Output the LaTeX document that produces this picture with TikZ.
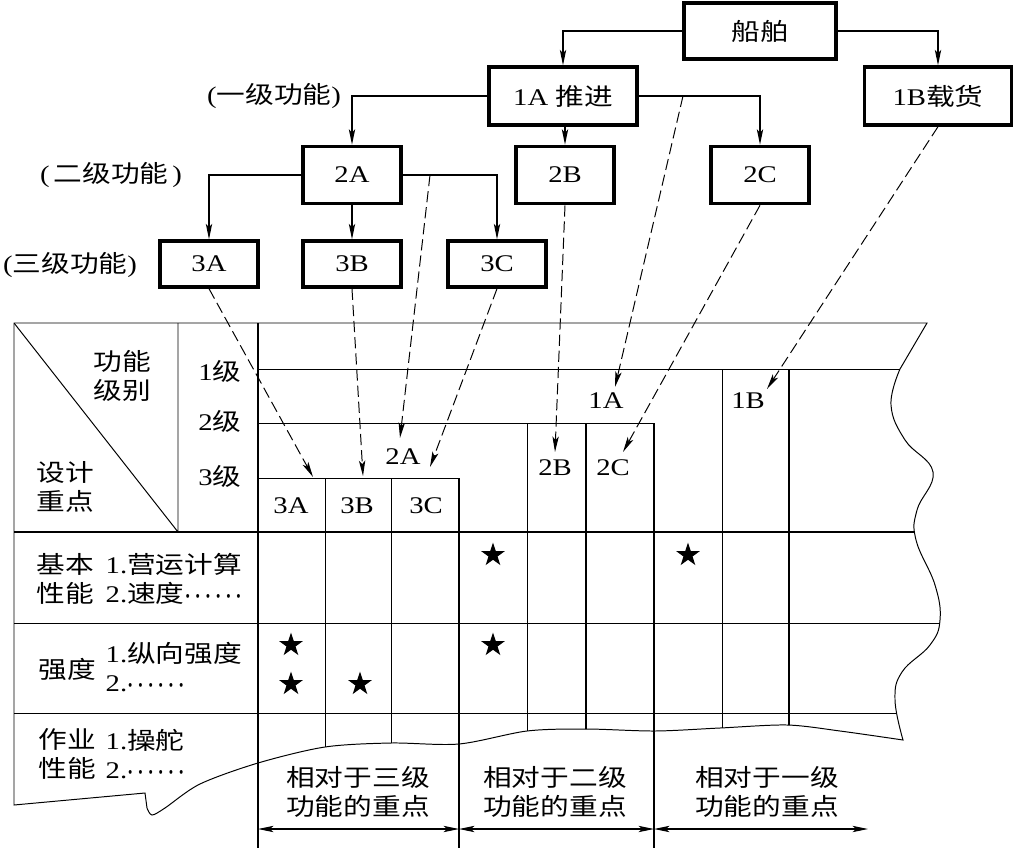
\documentclass[tikz,border=0pt]{standalone}
\usepackage{fontspec}
\usepackage{amsmath}
\usepackage{graphicx}
\setmainfont[FakeStretch=1.2]{Liberation Serif}
\newfontfamily\cjk[FakeStretch=1.2]{Noto Sans CJK SC}
\newcommand{\zh}[1]{{\cjk #1}}
\newcommand{\dotsrun}{\scalebox{0.82}[1]{$\boldsymbol{\cdots\cdots}$}}
\usetikzlibrary{arrows.meta,shapes.geometric}
\newcommand{\tableedge}{(14,323) -- (927,323) -- (900,369)
  -- plot[smooth,tension=0.7] coordinates {(900,369) (891,405) (905,440) (933,472) (917,510) (916,540) (935,585) (940,620) (930,645) (902,672) (895,700) (903,740)}
  -- plot[smooth,tension=0.5] coordinates {(903,740) (840,731) (787,725) (720,728) (655,731) (586,729) (527,731) (459,744) (391,743) (325,747) (258,763) (200,784) (165,808) (152,815) (147,808)}
  -- (145,793) -- (14,805) -- cycle}
\begin{document}
\begin{tikzpicture}[x=0.025cm, y=-0.025cm,
  every node/.style={font=\fontsize{17}{21}\selectfont, inner sep=1pt},
  >={Stealth[length=11pt,width=4.5pt,inset=2.5pt]},
  box/.style={draw, line width=2.4pt, minimum width=2.45cm, minimum height=1.43cm},
  link/.style={->, line width=0.9pt},
  guide/.style={->, line width=0.7pt, dash pattern=on 8pt off 3.5pt},
  rule/.style={line width=0.7pt},
  bold/.style={line width=1.3pt},
  dim/.style={<->, line width=0.8pt},
  hit/.style={star, star points=5, star point ratio=2.6, fill=black, minimum size=0.62cm, inner sep=0pt}]
\useasboundingbox (0,0) rectangle (1013,848);

\node[box, minimum width=3.8cm, minimum height=1.4cm] (ship) at (760,31) {\zh{船舶}};
\node[box, minimum width=3.7cm, minimum height=1.45cm] (1A) at (563,96) {1A \zh{推进}};
\node[box, minimum width=3.68cm, minimum height=1.45cm] (1B) at (938,96) {1B\zh{载货}};
\node[box] (2A) at (352,175) {2A};
\node[box] (2B) at (565,175) {2B};
\node[box] (2C) at (760,175) {2C};
\node[box, minimum height=1.15cm] (3A) at (209,264) {3A};
\node[box, minimum height=1.15cm] (3B) at (352,264) {3B};
\node[box, minimum height=1.15cm] (3C) at (497,264) {3C};
\node (lv1) at (274,96) {(\zh{一级功能})};
\node (lv2) at (111,175) {(\,\zh{二级功能}\,)};
\node (lv3) at (70,265) {(\zh{三级功能})};

\draw[link] (ship.west) -| (1A.north);
\draw[link] (ship.east) -| (1B.north);
\draw[link] (1A.west) -| (2A.north);
\draw[link] (1A.south -| 2B.north) -- (2B.north);
\draw[link] (1A.east) -| (2C.north);
\draw[link] (2A.west) -| (3A.north);
\draw[link] (2A.south) -- (3B.north);
\draw[link] (2A.east) -| (3C.north);

\begin{scope}
  \clip \tableedge;
  \draw[rule] (14,323) -- (178,532) (178,323) -- (178,532);
  \draw[rule] (258,369) -- (960,369) (258,423) -- (654,423) (258,478) -- (459,478);
  \draw[bold] (14,532) -- (960,532);
  \draw[rule] (14,623) -- (960,623) (14,713) -- (960,713);
  \draw[rule] (325,478) -- (325,848) (391,478) -- (391,848) (527,423) -- (527,848) (722,369) -- (722,848);
  \draw[bold] (586,423) -- (586,848) (789,369) -- (789,848);
\end{scope}
\draw[rule] \tableedge;
\draw[bold] (258,323) -- (258,848) (459,478) -- (459,848) (654,423) -- (654,848);

\node[align=center] (kind) at (122,376) {\zh{功能}\\\zh{级别}};
\node[align=center] (focus) at (65,487) {\zh{设计}\\\zh{重点}};
\node (g1) at (220,371) {1\zh{级}};
\node (g2) at (220,421) {2\zh{级}};
\node (g3) at (220,476) {3\zh{级}};
\node (c3A) at (291,506) {3A};
\node (c3B) at (357,506) {3B};
\node (c3C) at (426,506) {3C};
\node (c2A) at (403,457) {2A};
\node (c2B) at (555,468) {2B};
\node (c2C) at (613,468) {2C};
\node (c1A) at (606,401) {1A};
\node (c1B) at (748,401) {1B};

\node[align=left, anchor=west] (r1a) at (104,579) {1.\zh{营运计算}\\2.\zh{速度}\dotsrun};
\node[align=center] (r1) at (65,579) {\zh{基本}\\\zh{性能}};
\node (r2) at (67,669) {\zh{强度}};
\node[align=left, anchor=west] (r2a) at (104,667) {1.\zh{纵向强度}\\2.\dotsrun};
\node[align=center] (r3) at (67,754) {\zh{作业}\\\zh{性能}};
\node[align=left, anchor=west] (r3a) at (104,754) {1.\zh{操舵}\\2.\dotsrun};

\node[hit] (k1) at (493,555) {};
\node[hit] (k2) at (688,555) {};
\node[hit] (k3) at (291,645) {};
\node[hit] (k4) at (493,645) {};
\node[hit] (k5) at (291,684) {};
\node[hit] (k6) at (360,684) {};

\coordinate (s1A) at (683,96);
\coordinate (s2A) at (430,175);
\coordinate (e3A) at (313,477);
\coordinate (e3B) at (363,476);
\coordinate (e3C) at (430,467);
\coordinate (e2A) at (400,438);
\coordinate (e2B) at (555,452);
\coordinate (e2C) at (623,452);
\coordinate (e1A) at (615,387);
\coordinate (e1B) at (767,389);
\draw[guide] (3A.south) -- (e3A);
\draw[guide] (3B.south) -- (e3B);
\draw[guide] (3C.south) -- (e3C);
\draw[guide] (s2A) -- (e2A);
\draw[guide] (2B.south) -- (e2B);
\draw[guide] (2C.south) -- (e2C);
\draw[guide] (s1A) -- (e1A);
\draw[guide] (1B.south) -- (e1B);

\node[align=center] (f3) at (358,792) {\zh{相对于三级}\\\zh{功能的重点}};
\node[align=center] (f2) at (555,792) {\zh{相对于二级}\\\zh{功能的重点}};
\node[align=center] (f1) at (767,792) {\zh{相对于一级}\\\zh{功能的重点}};
\coordinate (m1) at (258,829);
\coordinate (m2) at (459,829);
\coordinate (m3) at (654,829);
\coordinate (m4) at (868,829);
\draw[dim] (m1) -- (m2);
\draw[dim] (m2) -- (m3);
\draw[dim] (m3) -- (m4);
\end{tikzpicture}
\end{document}
